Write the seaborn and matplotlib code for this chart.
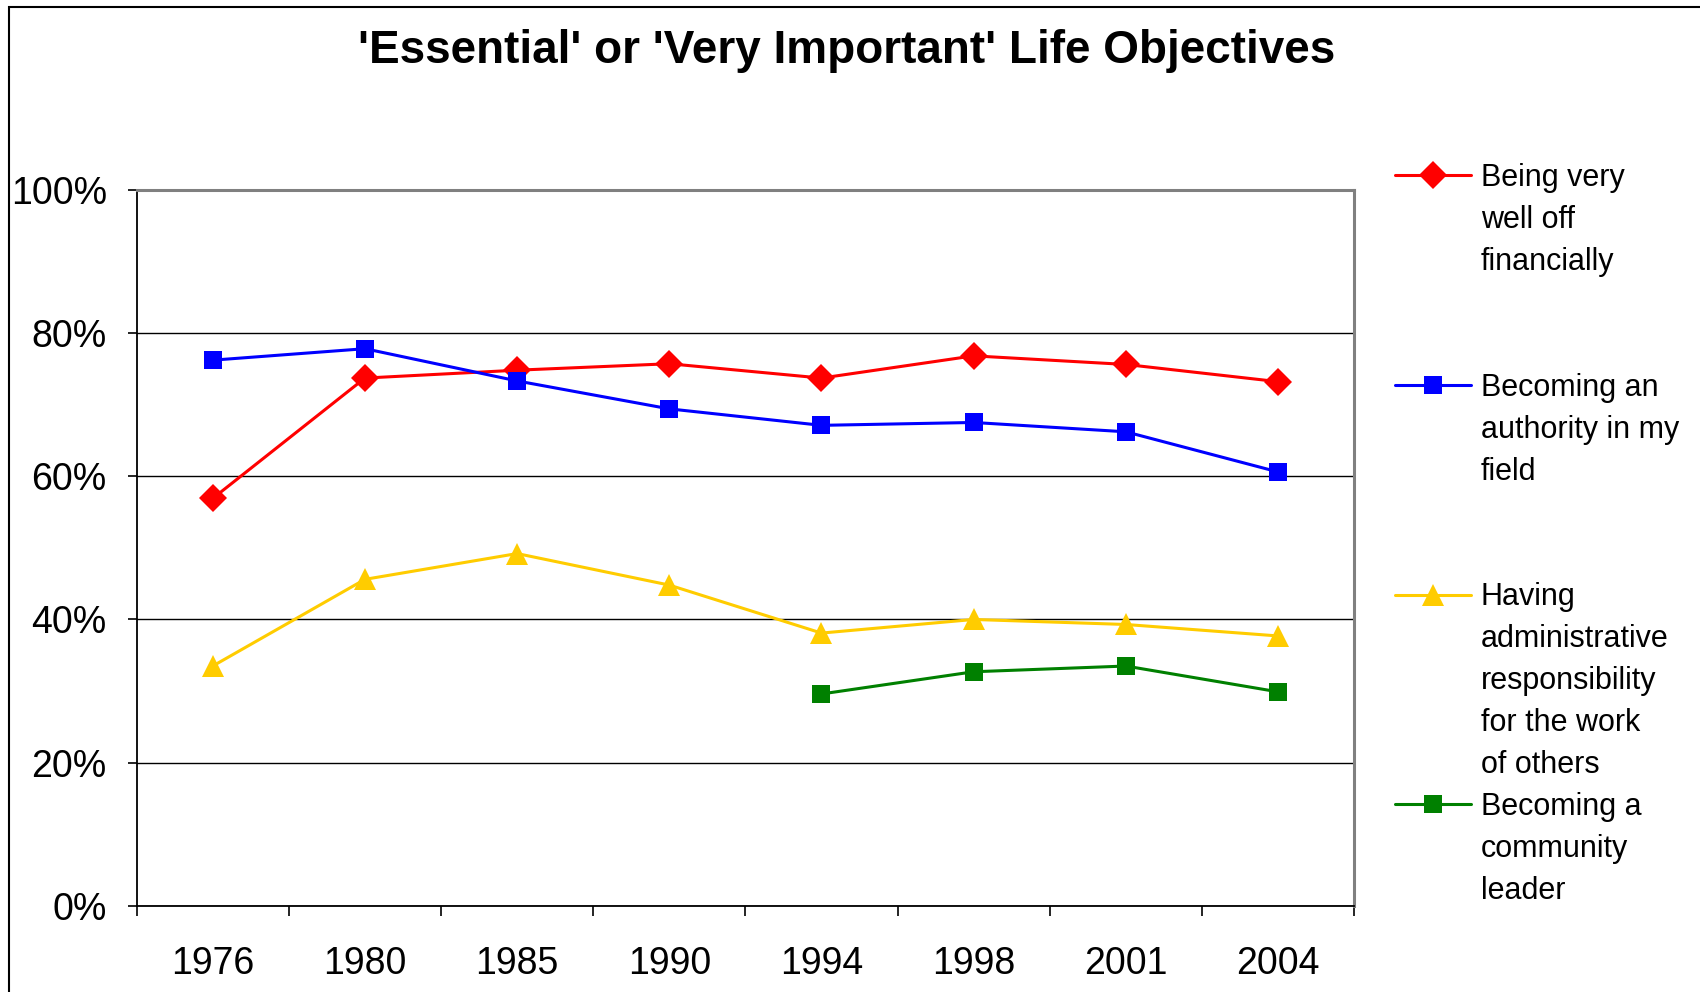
import numpy as np
import pandas as pd
import matplotlib
matplotlib.use('Agg')
import matplotlib.pyplot as plt
from matplotlib.lines import Line2D
from matplotlib.patches import Rectangle
from matplotlib.ticker import PercentFormatter, FixedLocator
import seaborn as sns

years = ['1976', '1980', '1985', '1990', '1994', '1998', '2001', '2004']

well_off = [56.9, 73.7, 74.8, 75.7, 73.7, 76.8, 75.6, 73.2]
authority = [76.2, 77.8, 73.3, 69.4, 67.1, 67.5, 66.2, 60.6]
admin = [33.5, 45.6, 49.2, 44.8, 38.1, 40.0, 39.3, 37.7]
community = [np.nan, np.nan, np.nan, np.nan, 29.6, 32.7, 33.5, 29.9]

labels = ['Being very well off financially',
          'Becoming an authority in my field',
          'Having administrative responsibility for the work of others',
          'Becoming a community leader']
legend_lines = [['Being very', 'well off', 'financially'],
                ['Becoming an', 'authority in my', 'field'],
                ['Having', 'administrative', 'responsibility', 'for the work', 'of others'],
                ['Becoming a', 'community', 'leader']]
colors = ['#FF0000', '#0000FF', '#FFCC00', '#008000']
markers = ['D', 's', '^', 's']
msizes = [14, 13, 16, 13]

# long form table for seaborn
rows = []
for lab, vals in zip(labels, [well_off, authority, admin, community]):
    for i, (yr, v) in enumerate(zip(years, vals)):
        if not np.isnan(v):
            rows.append({'series': lab, 'pos': i, 'year': yr, 'value': v / 100})
df = pd.DataFrame(rows)

sns.set_style('white')
plt.rcParams['font.family'] = ['Liberation Sans', 'DejaVu Sans']
plt.rcParams['text.color'] = 'black'
plt.rcParams['xtick.color'] = 'black'
plt.rcParams['ytick.color'] = 'black'

fig = plt.figure(figsize=(17, 9.92), dpi=100)
ax = fig.add_axes([0.0804, 0.0867, 0.7161, 0.7221])

# one call per series so every marker gets its own size
for lab, c, m, ms in zip(labels, colors, markers, msizes):
    sns.lineplot(data=df[df['series'] == lab], x='pos', y='value', color=c,
                 marker=m, markersize=ms, markeredgewidth=0, linewidth=2.2,
                 legend=False, ax=ax)

ax.set_xlim(-0.5, 7.5)
ax.set_ylim(0, 1)
ax.set_xlabel('')
ax.set_ylabel('')

ax.xaxis.set_major_locator(FixedLocator(range(len(years))))
ax.set_xticklabels(years)
ax.xaxis.set_minor_locator(FixedLocator(np.arange(-0.5, len(years), 1)))
ax.tick_params(axis='x', which='major', length=0, pad=28.5, labelsize=27, labelcolor='black')
ax.tick_params(axis='x', which='minor', length=7, width=1.2, color='black', direction='out', bottom=True)
ax.yaxis.set_major_locator(FixedLocator(np.arange(0, 1.01, 0.2)))
ax.yaxis.set_major_formatter(PercentFormatter(1.0, decimals=0))
ax.tick_params(axis='y', length=6.5, width=1.2, color='black', direction='out', left=True, pad=15,
               labelsize=27, labelcolor='black')

ax.grid(axis='y', color='black', linewidth=1.0)
ax.grid(axis='x', visible=False)
for side in ['top', 'right']:
    ax.spines[side].set_color('#808080')
    ax.spines[side].set_linewidth(2.2)
for side in ['left', 'bottom']:
    ax.spines[side].set_color('black')
    ax.spines[side].set_linewidth(1.3)

fig.text(0.498, 0.9487, "'Essential' or 'Very Important' Life Objectives",
         ha='center', va='center', fontsize=33, fontweight='bold', color='black')

# legend: one row per text line, handle on the first line of each entry
handles, texts = [], []
blank = Line2D([], [], color='none')
for c, m, ms, lines in zip(colors, markers, msizes, legend_lines):
    handles.append(Line2D([], [], color=c, marker=m, markersize=ms, markeredgewidth=0, linewidth=2.2))
    texts.append(lines[0])
    for ln in lines[1:]:
        handles.append(blank)
        texts.append(ln)
    for _ in range(5 - len(lines)):
        handles.append(blank)
        texts.append('')
leg = fig.legend(handles, texts, loc='upper left', bbox_to_anchor=(0.8206, 0.8355),
                 frameon=False, fontsize=22, handlelength=2.5, handletextpad=0.3,
                 labelspacing=0.39, borderpad=0, borderaxespad=0)
for t in leg.get_texts():
    t.set_color('black')

fig.patches.append(Rectangle((0.0051, -0.1), 1.2, 1.0934, transform=fig.transFigure,
                             fill=False, edgecolor='black', linewidth=1.5))

plt.savefig('out.png', dpi=100)
